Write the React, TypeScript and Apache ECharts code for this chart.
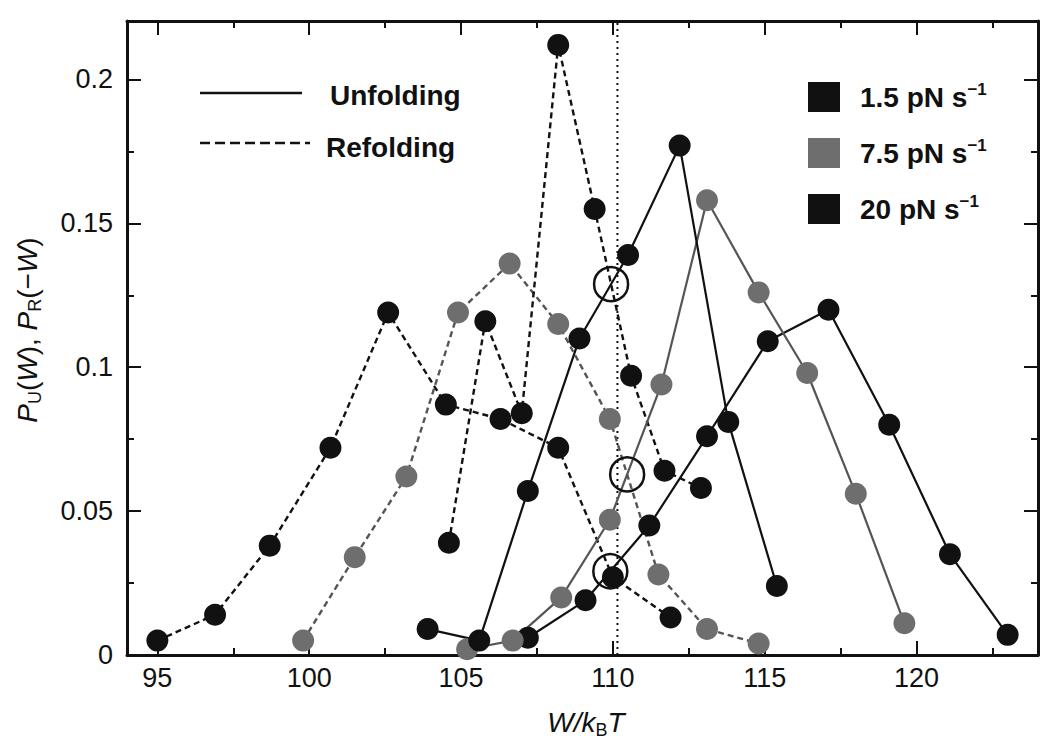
import React, { useEffect, useRef } from "react";
import * as echarts from "echarts";

// Work distributions, W/kBT bin centres and probabilities, per loading rate
const unfold15W = [103.9, 105.6, 107.2, 108.9, 110.5, 112.2, 113.8, 115.4];
const unfold15P = [0.009, 0.005, 0.057, 0.11, 0.139, 0.177, 0.081, 0.024];

const unfold75W = [105.2, 106.7, 108.3, 109.9, 111.6, 113.1, 114.8, 116.4, 118.0, 119.6];
const unfold75P = [0.002, 0.005, 0.02, 0.047, 0.094, 0.158, 0.126, 0.098, 0.056, 0.011];

const unfold20W = [107.2, 109.1, 111.2, 113.1, 115.1, 117.1, 119.1, 121.1, 123.0];
const unfold20P = [0.006, 0.019, 0.045, 0.076, 0.109, 0.12, 0.08, 0.035, 0.007];

const refold15W = [104.6, 105.8, 107.0, 108.2, 109.4, 110.6, 111.7, 112.9];
const refold15P = [0.039, 0.116, 0.084, 0.212, 0.155, 0.097, 0.064, 0.058];

const refold75W = [99.8, 101.5, 103.2, 104.9, 106.6, 108.2, 109.9, 111.5, 113.1, 114.8];
const refold75P = [0.005, 0.034, 0.062, 0.119, 0.136, 0.115, 0.082, 0.028, 0.009, 0.004];

const refold20W = [95.0, 96.9, 98.7, 100.7, 102.6, 104.5, 106.3, 108.2, 110.0, 111.9];
const refold20P = [0.005, 0.014, 0.038, 0.072, 0.119, 0.087, 0.082, 0.072, 0.027, 0.013];

// Free-energy difference marked by the dotted line
const deltaG = 110.15;

// Axis ranges and ticks
const xMin = 94;
const xMax = 124;
const yMin = 0;
const yMax = 0.2203;
const xMajor = [95, 100, 105, 110, 115, 120];
const xMinor = [97.5, 102.5, 107.5, 112.5, 117.5, 122.5];
const yMajor = [0, 0.05, 0.1, 0.15, 0.2];
const yMinor = [0.025, 0.075, 0.125, 0.175];

const rateLabels = ["1.5", "7.5", "20"];

const FONT = "'Liberation Sans', Arial, Helvetica, sans-serif";
const INK = "#111111";
const GREY = "#6e6e6e";
const GREY_LINE = "#555555";

type Pt = [number, number];

const toPts = (w: number[], p: number[]): Pt[] => w.map((v, i) => [v, p[i]]);

// Crossing of two polylines closest to deltaG
function crossing(a: Pt[], b: Pt[]): Pt | null {
  let best: Pt | null = null;
  for (let i = 0; i < a.length - 1; i++) {
    for (let j = 0; j < b.length - 1; j++) {
      const [x1, y1] = a[i];
      const [x2, y2] = a[i + 1];
      const [x3, y3] = b[j];
      const [x4, y4] = b[j + 1];
      const den = (x1 - x2) * (y3 - y4) - (y1 - y2) * (x3 - x4);
      if (Math.abs(den) < 1e-12) continue;
      const t = ((x1 - x3) * (y3 - y4) - (y1 - y3) * (x3 - x4)) / den;
      const u = -((x1 - x2) * (y1 - y3) - (y1 - y2) * (x1 - x3)) / den;
      if (t >= 0 && t <= 1 && u >= 0 && u <= 1) {
        const p: Pt = [x1 + t * (x2 - x1), y1 + t * (y2 - y1)];
        if (!best || Math.abs(p[0] - deltaG) < Math.abs(best[0] - deltaG)) best = p;
      }
    }
  }
  return best;
}

function valueAxis(
  position: string,
  min: number,
  max: number,
  ticks: number[],
  tickLen: number,
  showLine: boolean,
  labels: boolean,
  labelMargin: number
) {
  return {
    type: "value",
    position,
    min,
    max,
    splitLine: { show: false },
    axisLine: {
      show: showLine,
      onZero: false,
      lineStyle: { color: INK, width: 3 },
    },
    axisTick: {
      show: true,
      inside: true,
      length: tickLen,
      customValues: ticks,
      lineStyle: { color: INK, width: 2 },
    },
    axisLabel: {
      show: labels,
      customValues: ticks,
      margin: labelMargin,
      fontSize: 27,
      fontFamily: FONT,
      color: INK,
      formatter: (v: number) => String(v),
    },
  };
}

function lineSeries(
  name: string,
  pts: Pt[],
  color: string,
  lineColor: string,
  dashed: boolean
) {
  return {
    type: "line",
    name,
    data: pts,
    xAxisIndex: 0,
    yAxisIndex: 0,
    symbol: "circle",
    symbolSize: 22,
    showSymbol: true,
    itemStyle: { color, opacity: 1 },
    lineStyle: {
      color: lineColor,
      width: dashed ? 2.4 : 2.2,
      type: dashed ? [6, 4] : "solid",
    },
    z: 3,
  };
}

export default function App() {
  const ref = useRef<HTMLDivElement>(null);

  useEffect(() => {
    if (!ref.current) return;
    const chart = echarts.init(ref.current, null, { renderer: "svg" });

    const u15 = toPts(unfold15W, unfold15P);
    const u75 = toPts(unfold75W, unfold75P);
    const u20 = toPts(unfold20W, unfold20P);
    const r15 = toPts(refold15W, refold15P);
    const r75 = toPts(refold75W, refold75P);
    const r20 = toPts(refold20W, refold20P);

    const crossings = [crossing(u15, r15), crossing(u75, r75), crossing(u20, r20)].filter(
      (p): p is Pt => p !== null
    );

    const rateColors = [INK, GREY, INK];
    const rateRows = [97, 153, 209];

    const legendGraphics: any[] = [
      {
        type: "line",
        shape: { x1: 200, y1: 93, x2: 302, y2: 93 },
        style: { stroke: INK, lineWidth: 2.5 },
      },
      {
        type: "text",
        x: 330,
        y: 95,
        style: {
          text: "Unfolding",
          fontSize: 28,
          fontWeight: "bold",
          fontFamily: FONT,
          fill: INK,
          align: "left",
          verticalAlign: "middle",
        },
      },
      {
        type: "line",
        shape: { x1: 200, y1: 143, x2: 310, y2: 143 },
        style: { stroke: INK, lineWidth: 2.5, lineDash: [10, 5] },
      },
      {
        type: "text",
        x: 326,
        y: 147,
        style: {
          text: "Refolding",
          fontSize: 28,
          fontWeight: "bold",
          fontFamily: FONT,
          fill: INK,
          align: "left",
          verticalAlign: "middle",
        },
      },
    ];

    rateLabels.forEach((r, i) => {
      legendGraphics.push({
        type: "rect",
        shape: { x: 808, y: rateRows[i] - 15, width: 32, height: 30 },
        style: { fill: rateColors[i] },
      });
      legendGraphics.push({
        type: "text",
        x: 860,
        y: rateRows[i],
        style: {
          text: `{n|${r} pN s}{s|\u22121}`,
          align: "left",
          verticalAlign: "middle",
          fill: INK,
          rich: {
            n: { fontSize: 28, fontWeight: "bold", fontFamily: FONT, fill: INK, lineHeight: 32 },
            s: {
              fontSize: 17,
              fontWeight: "bold",
              fontFamily: FONT,
              fill: INK,
              lineHeight: 18,
              verticalAlign: "top",
            },
          },
        },
      });
    });

    const italic = { fontSize: 28, fontFamily: FONT, fontStyle: "italic", fill: INK, lineHeight: 34 };
    const roman = { fontSize: 28, fontFamily: FONT, fill: INK, lineHeight: 34 };
    const sub = { fontSize: 18, fontFamily: FONT, fill: INK, lineHeight: 18, verticalAlign: "bottom" };

    const titles: any[] = [
      {
        type: "text",
        x: 586,
        y: 722,
        style: {
          text: "{i|W/k}{s|B}{i|T}",
          align: "center",
          verticalAlign: "middle",
          rich: { i: italic, s: sub },
        },
      },
      {
        type: "text",
        x: 27,
        y: 330,
        rotation: Math.PI / 2,
        style: {
          text: "{i|P}{s|U}{n|(}{i|W}{n|), }{i|P}{s|R}{n|(\u2212}{i|W}{n|)}",
          align: "center",
          verticalAlign: "middle",
          rich: { i: italic, n: roman, s: sub },
        },
      },
    ];

    chart.setOption({
      animation: false,
      backgroundColor: "#ffffff",
      grid: { left: 127, right: 3, top: 21, bottom: 88, containLabel: false },
      xAxis: [
        valueAxis("bottom", xMin, xMax, xMajor, 14, true, true, 9),
        valueAxis("bottom", xMin, xMax, xMinor, 7, false, false, 9),
        valueAxis("top", xMin, xMax, xMajor, 14, true, false, 9),
        valueAxis("top", xMin, xMax, xMinor, 7, false, false, 9),
      ],
      yAxis: [
        valueAxis("left", yMin, yMax, yMajor, 14, true, true, 14),
        valueAxis("left", yMin, yMax, yMinor, 7, false, false, 14),
        valueAxis("right", yMin, yMax, yMajor, 14, true, false, 14),
        valueAxis("right", yMin, yMax, yMinor, 7, false, false, 14),
      ],
      series: [
        {
          type: "line",
          name: "deltaG",
          data: [
            [deltaG, yMin],
            [deltaG, yMax],
          ],
          xAxisIndex: 0,
          yAxisIndex: 0,
          symbol: "none",
          lineStyle: { color: INK, width: 2, type: [2, 4] },
          z: 2,
        },
        lineSeries("Refolding 20 pN/s", r20, INK, INK, true),
        lineSeries("Refolding 7.5 pN/s", r75, GREY, GREY_LINE, true),
        lineSeries("Refolding 1.5 pN/s", r15, INK, INK, true),
        lineSeries("Unfolding 20 pN/s", u20, INK, INK, false),
        lineSeries("Unfolding 7.5 pN/s", u75, GREY, GREY_LINE, false),
        lineSeries("Unfolding 1.5 pN/s", u15, INK, INK, false),
        {
          type: "scatter",
          name: "crossings",
          data: crossings,
          xAxisIndex: 0,
          yAxisIndex: 0,
          symbol: "circle",
          symbolSize: 34,
          itemStyle: {
            color: "rgba(0,0,0,0)",
            borderColor: INK,
            borderWidth: 2.5,
            opacity: 1,
          },
          z: 5,
        },
      ],
      graphic: [...legendGraphics, ...titles],
    });

    return () => chart.dispose();
  }, []);

  return (
    <div
      ref={ref}
      style={{ position: "fixed", left: 0, top: 0, width: 1041, height: 743, background: "#fff" }}
    />
  );
}
